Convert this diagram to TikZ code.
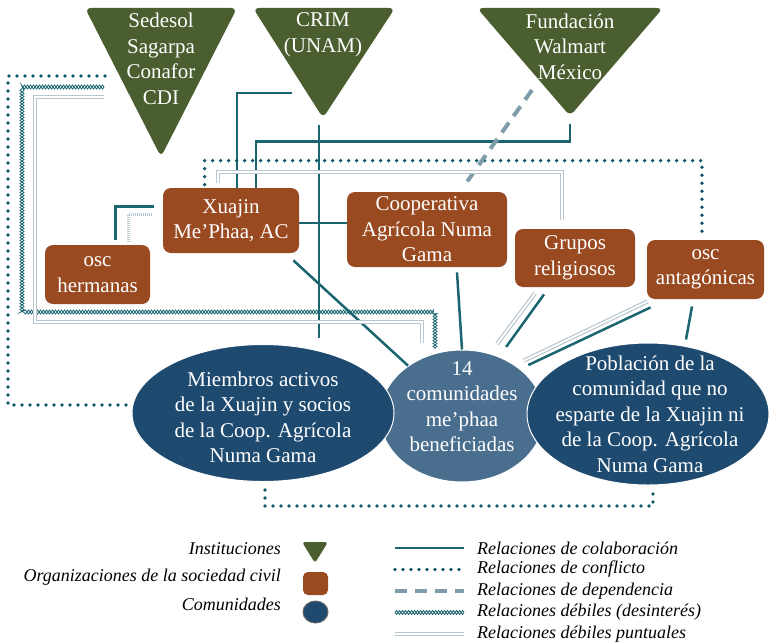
\documentclass[tikz,border=0pt]{standalone}
\usepackage{fontspec}
\setmainfont{Liberation Serif}
\usepackage{tikz}
\usetikzlibrary{shapes,positioning,calc}
\usetikzlibrary{decorations.pathmorphing}
\usepackage{color}

\definecolor{instgreen}{HTML}{4A5E2F}
\definecolor{oscbrown}{HTML}{9A4A21}
\definecolor{comblue}{HTML}{1F4A70}
\definecolor{commid}{HTML}{4A6E8E}
\definecolor{colabteal}{HTML}{1B6570}
\definecolor{conflteal}{HTML}{0F5966}
\definecolor{depgray}{HTML}{7F9CAB}
\definecolor{weakgray}{HTML}{B8C6CF}

\newcommand{\bodyfont}{\fontsize{10.5}{12.75}\selectfont}
\newcommand{\legfont}{\fontsize{9}{11}\selectfont}

\tikzset{
    inst/.style={fill=instgreen, rounded corners=3pt},
    osc/.style={rectangle, rounded corners=4pt, fill=oscbrown, text=white, align=center, inner sep=0pt, font=\bodyfont},
    comm/.style={ellipse, fill=comblue, draw=white, line width=0.5pt, inner sep=0pt},
    lbl/.style={text=white, align=center, font=\bodyfont},
    leg/.style={font=\legfont\itshape},
    colab/.style={draw=colabteal, line width=1.25pt},
    conflict/.style={draw=conflteal, line width=1.9pt, line cap=round, dash pattern=on 0pt off 4pt},
    depend/.style={draw=depgray, line width=2pt, dash pattern=on 6pt off 4pt},
    desint/.style={draw=none,
        preaction={draw=colabteal, line width=0.4pt, decorate, decoration={zigzag, amplitude=1pt, segment length=3pt}},
        postaction={draw=colabteal, line width=0.4pt, decorate, decoration={zigzag, amplitude=-1pt, segment length=3pt}}},
    weak/.style={draw=weakgray, double=white, double distance=0.9pt, line width=0.6pt},
    hatched/.style={draw=weakgray, line width=1.5pt, dash pattern=on 0.5pt off 0.5pt}
}

\begin{document}
\begin{tikzpicture}[x=0.5pt, y=-0.5pt]
    \useasboundingbox (0,0) rectangle (769,642);

    % Instituciones
    \fill[inst] (85,8) -- (237,8) -- (161,157) -- cycle;
    \fill[inst] (253,8) -- (395,8) -- (323,118) -- cycle;
    \fill[inst] (477,8) -- (663,8) -- (570,116) -- cycle;
    \node[lbl] (sedesol) at (161,59) {Sedesol\\Sagarpa\\Conafor\\CDI};
    \node[lbl] (crim) at (323,35) {CRIM\\(UNAM)};
    \node[lbl] (walmart) at (570,46.5) {Fundación\\Walmart\\México};
    \coordinate (crim-tip) at (319,125);
    \coordinate (crim-l) at (292,93);
    \coordinate (walmart-tip) at (570,124);
    \coordinate (walmart-dep) at (532,90);
    \coordinate (sedesol-c) at (105,76);
    \coordinate (sedesol-d) at (104,87);
    \coordinate (sedesol-w) at (104,97);

    % Organizaciones de la sociedad civil
    \node[osc, minimum width=68pt, minimum height=32.5pt] (xuajin) at (231,220.5) {Xuajin\\Me’Phaa, AC};
    \node[osc, minimum width=80pt, minimum height=37.5pt] (coop) at (427,229.5) {Cooperativa\\Agrícola Numa\\Gama};
    \node[osc, minimum width=60pt, minimum height=29pt] (grupos) at (575,258) {Grupos\\religiosos};
    \node[osc, minimum width=58.5pt, minimum height=29.5pt] (antag) at (705.5,269.5) {osc\\antagónicas};
    \node[osc, minimum width=52.5pt, minimum height=29.5pt] (hermanas) at (97.5,274.5) {osc\\hermanas};

    % Comunidades
    \node[comm, fill=commid, minimum width=82pt, minimum height=66pt] (comunidades) at (462,416) {};
    \node[comm, minimum width=131pt, minimum height=68.5pt] (miembros) at (263,413) {};
    \node[comm, minimum width=121pt, minimum height=71pt] (poblacion) at (648,414) {};
    \node[lbl] (comunidades-txt) at ([yshift=4.75pt]comunidades) {14\\comunidades\\me’phaa\\beneficiadas};
    \node[lbl] (miembros-txt) at ([yshift=-2.25pt]miembros) {Miembros activos\\de la Xuajin y socios\\de la Coop. Agrícola\\Numa Gama};
    \node[lbl] (poblacion-txt) at ([xshift=1pt]poblacion) {Población de la\\comunidad que no\\esparte de la Xuajin ni\\de la Coop. Agrícola\\Numa Gama};

    % Relaciones de colaboración
    \draw[colab] (crim-l) -| ([xshift=3pt]xuajin.north);
    \draw[colab] (crim-tip) -- ([yshift=3pt]crim-tip |- miembros.north);
    \draw[colab] (walmart-tip) |- ([xshift=12.5pt,yshift=23pt]xuajin.north) -- ([xshift=12.5pt]xuajin.north);
    \draw[colab] ([yshift=-1.25pt]xuajin.east) -- ([yshift=-1.25pt]xuajin.east -| coop.west);
    \draw[colab] ([shift={(-3pt,-3.5pt)}]xuajin.south east) -- (comunidades.137);
    \draw[colab] ([xshift=15pt,yshift=-2.5pt]coop.south) -- (comunidades.north);
    \draw[colab, shorten >=6pt] ([xshift=-15.5pt,yshift=-3.5pt]grupos.south) -- (comunidades.58);
    \draw[colab, shorten >=4.5pt] ([xshift=2pt,yshift=-4pt]antag.south west) -- (comunidades.39);
    \draw[colab] ([xshift=-6.75pt,yshift=-3.5pt]antag.south) -- ([xshift=19pt,yshift=1.5pt]poblacion.north);
    \draw[colab] ([xshift=9pt,yshift=2.5pt]hermanas.north) |- ([xshift=-4.5pt,yshift=7pt]xuajin.west);
    \draw[hatched] ([xshift=15.25pt,yshift=1.5pt]hermanas.north) |- ([xshift=-5pt,yshift=3pt]xuajin.west);

    % Relaciones de conflicto
    \draw[conflict] (sedesol-c) -- ++(-97,0) |- ([xshift=-2pt,yshift=4pt]miembros.west);
    \draw[conflict] ([xshift=21pt,yshift=1.5pt]xuajin.north west) -- ++(0,-24) -| ([xshift=-1.75pt,yshift=2.5pt]antag.north);
    \draw[conflict] ([xshift=1pt,yshift=-4pt]miembros.south) -- ++(0,16) -| ([xshift=2.5pt,yshift=-2.5pt]poblacion.south);

    % Relaciones de dependencia
    \draw[depend] (walmart-dep) -- ([xshift=19pt,yshift=3.5pt]coop.north);

    % Relaciones debiles
    \path[desint] (sedesol-d) -- ++(-82,0) -- ++(0,225) -| ([xshift=-13.5pt,yshift=0.5pt]comunidades.north);
    \draw[weak] (sedesol-w) -- ++(-69,0) -- ++(0,225) -| ([xshift=-20pt,yshift=3.5pt]comunidades.north);
    \draw[weak] ([xshift=-6.5pt,yshift=2.5pt]xuajin.north) -- ++(0,-11) -| ([xshift=-6.5pt,yshift=4.5pt]grupos.north);
    \draw[weak, shorten >=6pt] ([xshift=-20pt,yshift=-3pt]grupos.south) -- (comunidades.66);
    \draw[weak, shorten >=5pt] ([xshift=0.5pt,yshift=-1pt]antag.south west) -- (comunidades.44);

    % Leyenda
    \node[leg, anchor=east] (leg-inst) at (288,549) {Instituciones};
    \node[leg, anchor=east] (leg-oscs) at (288,577) {Organizaciones de la sociedad civil};
    \node[leg, anchor=east] (leg-comm) at (288,604) {Comunidades};
    \fill[inst, rounded corners=1.5pt] (302,542) -- (328,542) -- (315,563) -- cycle;
    \node[osc, minimum width=12.5pt, minimum height=11.5pt, rounded corners=2.5pt] (leg-box) at (315.5,583.5) {};
    \node[comm, minimum width=12.5pt, minimum height=11pt, draw=black!60] (leg-ell) at (315.5,612) {};

    \foreach \sty/\txt [count=\i] in {colab/Relaciones de colaboración, conflict/Relaciones de conflicto,
        depend/Relaciones de dependencia, desint/Relaciones débiles (desinterés), weak/Relaciones débiles puntuales}{
        \coordinate (leg-a\i) at (395,548+21.5*\i-21.5);
        \coordinate (leg-b\i) at (464,548+21.5*\i-21.5);
        \draw[\sty] (leg-a\i) -- (leg-b\i);
        \node[leg, right=3pt of leg-b\i] (leg-t\i) {\txt};
    }
\end{tikzpicture}
\end{document}
